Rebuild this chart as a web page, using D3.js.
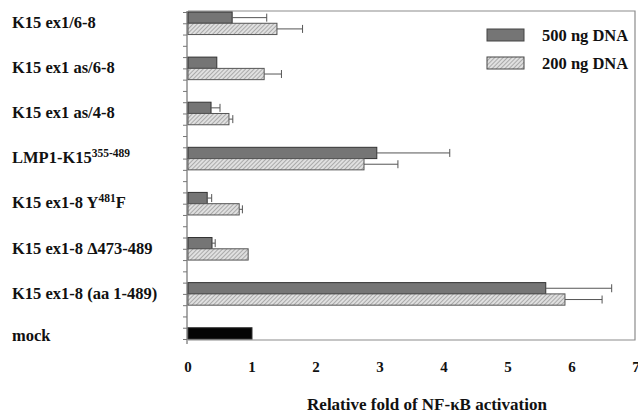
<!DOCTYPE html>
<html lang="en">
  <head>
    <meta charset="utf-8" />
    <title>NF-kB activation</title>
    <script src="https://cdn.jsdelivr.net/npm/d3@7"></script>
    <style>
      body { margin: 0; background: #fff; }
      text { font-family: "Liberation Serif", "Times New Roman", serif; font-weight: bold; fill: #111; }
    </style>
  </head>
  <body>
    <div id="root"></div>

    <script type="text/javascript">
      /************************************
       * data
       ************************************/
      // ^{...} marks a superscript
      const categories = [
        "K15 ex1/6-8",
        "K15 ex1 as/6-8",
        "K15 ex1 as/4-8",
        "LMP1-K15^{355-489}",
        "K15 ex1-8 Y^{481}F",
        "K15 ex1-8 \u0394473-489",
        "K15 ex1-8 (aa 1-489)",
        "mock",
      ];
      const dna500 = [0.69, 0.45, 0.36, 2.95, 0.3, 0.375, 5.59, 1.0];
      const err500 = [0.54, 0, 0.14, 1.14, 0.07, 0.05, 1.03, 0];
      const dna200 = [1.39, 1.19, 0.64, 2.75, 0.8, 0.94, 5.89, null];
      const err200 = [0.4, 0.27, 0.06, 0.53, 0.05, 0, 0.58, 0];
      const xTicks = [0, 1, 2, 3, 4, 5, 6, 7];
      const legendLabels = ["500 ng DNA", "200 ng DNA"];
      const xTitle = "Relative fold of NF-\u03baB activation";

      /************************************
       * layout
       ************************************/
      const width = 638;
      const height = 413;
      const plotLeft = 188;
      const plotRight = 636;
      const plotTop = 12;
      const plotBottom = 339;
      const slotsPerGroup = 4; // dark, light, gap, gap
      const nSlots = 29;

      const xScale = d3.scaleLinear().domain([0, 7]).range([plotLeft, plotRight]);
      // each bar takes one "slot" on the vertical axis
      const yScale = d3.scaleLinear().domain([0, nSlots]).range([plotTop, plotBottom]);
      const slotH = yScale(1) - yScale(0);

      const svg = d3
        .select("#root")
        .append("svg")
        .attr("width", width)
        .attr("height", height);

      // hatch pattern for the 200 ng bars
      const defs = svg.append("defs");
      const hatch = defs
        .append("pattern")
        .attr("id", "hatch")
        .attr("patternUnits", "userSpaceOnUse")
        .attr("width", 3)
        .attr("height", 3)
        .attr("patternTransform", "rotate(45)");
      hatch.append("rect").attr("width", 3).attr("height", 3).attr("fill", "#e0e0e0");
      hatch
        .append("line")
        .attr("x1", 0).attr("y1", 0).attr("x2", 0).attr("y2", 3)
        .attr("stroke", "#858585")
        .attr("stroke-width", 1.2);

      // frame (top, right, bottom)
      svg
        .append("path")
        .attr("d", `M${plotLeft},${plotTop - 1}H${plotRight - 1}V${plotBottom + 1}H${plotLeft}`)
        .attr("fill", "none")
        .attr("stroke", "#8c8c8c")
        .attr("stroke-width", 1.2);

      // left axis with a tick at every slot boundary
      const yAxis = svg
        .append("g")
        .attr("transform", `translate(${plotLeft - 1},0)`)
        .call(
          d3.axisLeft(yScale)
            .tickValues(d3.range(0, nSlots + 1))
            .tickFormat("")
            .tickSize(4)
            .tickSizeOuter(0)
        );
      yAxis.select(".domain").attr("stroke", "#555").attr("d", `M0,${plotTop - 1}V${plotBottom + 5}`);
      yAxis.selectAll(".tick line").attr("stroke", "#777");

      // x tick labels
      svg
        .append("g")
        .selectAll("text")
        .data(xTicks)
        .enter()
        .append("text")
        .attr("x", (d) => xScale(d))
        .attr("y", 372)
        .attr("text-anchor", "middle")
        .attr("font-size", 15)
        .text((d) => d);

      // bars
      const rows = categories.map((c, i) => ({
        name: c,
        i,
        v500: dna500[i],
        e500: err500[i],
        v200: dna200[i],
        e200: err200[i],
      }));

      const bars = [];
      rows.forEach((r) => {
        const isMock = r.name === "mock";
        bars.push({ slot: r.i * slotsPerGroup, v: r.v500, e: r.e500, kind: isMock ? "mock" : "dark" });
        if (r.v200 != null) bars.push({ slot: r.i * slotsPerGroup + 1, v: r.v200, e: r.e200, kind: "light" });
      });

      const fills = { dark: "#757575", light: "url(#hatch)", mock: "#050505" };

      svg
        .append("g")
        .selectAll("rect")
        .data(bars)
        .enter()
        .append("rect")
        .attr("x", xScale(0))
        .attr("y", (d) => yScale(d.slot))
        .attr("width", (d) => xScale(d.v) - xScale(0))
        .attr("height", slotH)
        .attr("fill", (d) => fills[d.kind])
        .attr("stroke", (d) => (d.kind === "light" ? "#555" : "#333"))
        .attr("stroke-width", 1);

      // error bars
      const errG = svg.append("g").attr("stroke", "#555").attr("stroke-width", 1).attr("fill", "none");
      bars
        .filter((d) => d.e > 0)
        .forEach((d) => {
          const yc = yScale(d.slot) + slotH / 2;
          errG
            .append("path")
            .attr(
              "d",
              `M${xScale(d.v)},${yc}H${xScale(d.v + d.e)}M${xScale(d.v + d.e)},${yc - 4}V${yc + 4}`
            );
        });

      // category labels
      const labelG = svg.append("g");
      rows.forEach((r) => {
        const isMock = r.name === "mock";
        const yc = isMock
          ? yScale(r.i * slotsPerGroup + 0.5) + 2
          : yScale(r.i * slotsPerGroup + 1) - 1;
        const t = labelG
          .append("text")
          .attr("x", 12)
          .attr("y", yc)
          .attr("dy", "0.35em")
          .attr("font-size", 16.5);
        const parts = r.name.split(/(\^\{[^}]*\})/).filter((p) => p.length);
        parts.forEach((p) => {
          if (p.startsWith("^{")) {
            t.append("tspan")
              .attr("font-size", 11.5)
              .attr("baseline-shift", "6")
              .text(p.slice(2, -1));
          } else {
            t.append("tspan").text(p);
          }
        });
      });

      // legend
      const legend = svg.append("g");
      const legendFills = ["#757575", "url(#hatch)"];
      legendLabels.forEach((lab, i) => {
        const y = 29 + i * 28;
        legend
          .append("rect")
          .attr("x", 487)
          .attr("y", y)
          .attr("width", 37)
          .attr("height", 12)
          .attr("fill", legendFills[i])
          .attr("stroke", "#444");
        legend
          .append("text")
          .attr("x", 542)
          .attr("y", y + 6)
          .attr("dy", "0.35em")
          .attr("font-size", 16.5)
          .text(lab);
      });

      // x axis title
      svg
        .append("text")
        .attr("x", 427)
        .attr("y", 410)
        .attr("text-anchor", "middle")
        .attr("font-size", 17)
        .text(xTitle);
    </script>
  </body>
</html>
